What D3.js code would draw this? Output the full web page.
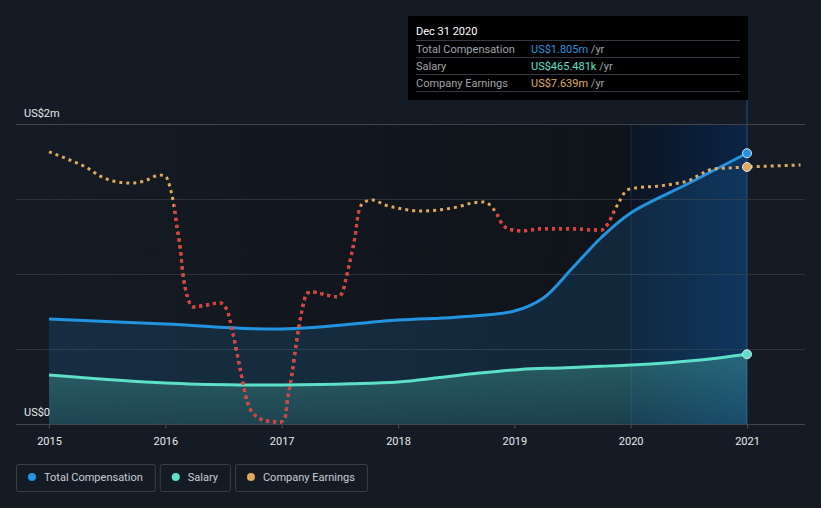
<!DOCTYPE html>
<html><head><meta charset="utf-8">
<script src="https://cdn.jsdelivr.net/npm/d3@7"></script>
<style>
html,body{margin:0;padding:0;background:#151b24;}
svg{display:block;font-family:Roboto,"Open Sans",sans-serif;}
</style></head>
<body>
<svg id="chart" width="821" height="508"></svg>
<script>
// ---- data ----
const tickYears = [2015, 2016, 2017, 2018, 2019, 2020, 2021];
const yTickLabels = ["US$0", "US$2m"];
const compYears = [2015.0, 2016.0, 2017.0, 2018.0, 2018.5, 2019.0, 2019.25, 2019.5, 2019.75, 2020.0, 2020.5, 2021.0];
const compValues = [0.70, 0.667, 0.633, 0.693, 0.712, 0.753, 0.84, 1.04, 1.245, 1.407, 1.605, 1.805];
const salaryYears = [2015.0, 2016.0, 2016.64, 2017.0, 2017.6, 2018.0, 2018.36, 2018.7, 2019.05, 2019.4, 2019.74, 2020.0, 2020.6, 2021.0];
const salaryValues = [0.327, 0.273, 0.26, 0.26, 0.268, 0.28, 0.31, 0.34, 0.364, 0.374, 0.385, 0.393, 0.427, 0.465];
const earnYears = [2015.0, 2015.155, 2015.33, 2015.44, 2015.55, 2015.72, 2015.84, 2015.95, 2016.0, 2016.04, 2016.07, 2016.10, 2016.13, 2016.15, 2016.19, 2016.24, 2016.36, 2016.47, 2016.53, 2016.58, 2016.64, 2016.70, 2016.75, 2016.87, 2016.99, 2017.03, 2017.05, 2017.09, 2017.13, 2017.17, 2017.22, 2017.27, 2017.39, 2017.48, 2017.52, 2017.55, 2017.59, 2017.63, 2017.66, 2017.70, 2017.78, 2017.89, 2018.04, 2018.19, 2018.34, 2018.51, 2018.64, 2018.73, 2018.79, 2018.85, 2018.90, 2018.98, 2019.07, 2019.22, 2019.50, 2019.68, 2019.75, 2019.81, 2019.85, 2019.91, 2019.97, 2020.05, 2020.23, 2020.36, 2020.51, 2020.62, 2020.71, 2020.85, 2021.0, 2021.22, 2021.46];
const earnValues = [8.09, 7.88, 7.61, 7.37, 7.22, 7.16, 7.25, 7.40, 7.37, 7.04, 6.57, 5.86, 5.17, 4.49, 3.78, 3.48, 3.54, 3.60, 3.39, 2.71, 1.69, 0.71, 0.33, 0.09, 0.06, 0.21, 0.71, 1.52, 2.50, 3.30, 3.89, 3.92, 3.83, 3.78, 3.89, 4.28, 4.88, 5.56, 6.27, 6.57, 6.66, 6.51, 6.39, 6.33, 6.36, 6.45, 6.57, 6.60, 6.51, 6.24, 5.92, 5.77, 5.74, 5.80, 5.80, 5.77, 5.77, 5.98, 6.27, 6.66, 6.96, 7.02, 7.07, 7.13, 7.25, 7.46, 7.58, 7.61, 7.639, 7.67, 7.70];
const earnDeclineStarts = [2016.075, 2018.83];
const earnDeclineEnds = [2017.675, 2019.86];
const highlightYears = [2020, 2021];
const legendLabels = ["Total Compensation", "Salary", "Company Earnings"];
const tooltipTitle = "Dec 31 2020";
const tooltipLabels = ["Total Compensation", "Salary", "Company Earnings"];
const tooltipValues = ["US$1.805m", "US$465.481k", "US$7.639m"];

// ---- styles ----
const C_COMP = "#2394df", C_SAL = "#5ce0c8", C_EARN = "#e0a95c", C_RED = "#e03c3c";

const svg = d3.select("#chart");
const x = d3.scaleLinear().domain([2015, 2021]).range([49, 747]);
const y = d3.scaleLinear().domain([0, 2]).range([424, 124]);
const yE = d3.scaleLinear().domain([0, 8.917]).range([424, 124]);
const X0 = 16, X1 = 805;

const defs = svg.append("defs");
const gBg = defs.append("linearGradient").attr("id", "bgGrad").attr("x1", 0).attr("x2", 1).attr("y1", 0).attr("y2", 0);
gBg.append("stop").attr("offset", 0).attr("stop-color", "#0a0d12").attr("stop-opacity", 0);
gBg.append("stop").attr("offset", 1).attr("stop-color", "#0a0d12").attr("stop-opacity", 0.55);
const gHi = defs.append("linearGradient").attr("id", "hiGrad").attr("x1", 0).attr("x2", 1).attr("y1", 0).attr("y2", 0);
gHi.append("stop").attr("offset", 0).attr("stop-color", "#0c1524").attr("stop-opacity", 1);
gHi.append("stop").attr("offset", 1).attr("stop-color", "#0b2446").attr("stop-opacity", 1);
const gSal = defs.append("linearGradient").attr("id", "salGrad").attr("x1", 0).attr("x2", 0).attr("y1", 0).attr("y2", 1);
gSal.append("stop").attr("offset", 0).attr("stop-color", C_SAL).attr("stop-opacity", 0.3);
gSal.append("stop").attr("offset", 1).attr("stop-color", C_SAL).attr("stop-opacity", 0.13);

// plot background
svg.append("rect").attr("x", X0).attr("y", y(2)).attr("width", x(highlightYears[0]) - X0).attr("height", y(0) - y(2)).attr("fill", "url(#bgGrad)");
svg.append("rect").attr("x", x(highlightYears[0])).attr("y", y(2)).attr("width", x(highlightYears[1]) - x(highlightYears[0])).attr("height", y(0) - y(2)).attr("fill", "url(#hiGrad)");
svg.append("line").attr("x1", x(highlightYears[0]) + 0.5).attr("x2", x(highlightYears[0]) + 0.5).attr("y1", y(2)).attr("y2", y(0)).attr("stroke", "#142a45").attr("stroke-width", 1);
svg.append("line").attr("x1", x(highlightYears[1])).attr("x2", x(highlightYears[1])).attr("y1", 100).attr("y2", y(0)).attr("stroke", "#1d3f66").attr("stroke-width", 1.5);

// gridlines
const gridVals = d3.range(0, 2.01, 0.5);
svg.append("g").selectAll("line").data(gridVals).join("line")
  .attr("x1", X0).attr("x2", X1)
  .attr("y1", d => Math.round(y(d)) + 0.5).attr("y2", d => Math.round(y(d)) + 0.5)
  .attr("stroke", d => d === 2 ? "#40454e" : "#2c313a").attr("stroke-width", 1);

// areas
const compData = compYears.map((t, i) => [t, compValues[i]]);
const salData = salaryYears.map((t, i) => [t, salaryValues[i]]);
const earnData = earnYears.map((t, i) => [t, earnValues[i]]);
const curve = d3.curveMonotoneX;
const smooth = d3.curveCatmullRom.alpha(0.5);

svg.append("path").datum(compData)
  .attr("d", d3.area().curve(smooth).x(d => x(d[0])).y0(y(0)).y1(d => y(d[1])))
  .attr("fill", C_COMP).attr("fill-opacity", 0.16);
svg.append("path").datum(salData)
  .attr("d", d3.area().curve(smooth).x(d => x(d[0])).y0(y(0)).y1(d => y(d[1])))
  .attr("fill", "url(#salGrad)");

// lines
svg.append("path").datum(compData)
  .attr("d", d3.line().curve(smooth).x(d => x(d[0])).y(d => y(d[1])))
  .attr("fill", "none").attr("stroke", C_COMP).attr("stroke-width", 3);
svg.append("path").datum(salData)
  .attr("d", d3.line().curve(smooth).x(d => x(d[0])).y(d => y(d[1])))
  .attr("fill", "none").attr("stroke", C_SAL).attr("stroke-width", 3);

// earnings dotted line (orange + red declining segments via clip)
const earnLine = d3.line().curve(curve).x(d => x(d[0])).y(d => yE(d[1]));
const clip = defs.append("clipPath").attr("id", "redClip");
earnDeclineStarts.forEach((s, i) => {
  clip.append("rect").attr("x", x(s)).attr("y", 0).attr("width", x(earnDeclineEnds[i]) - x(s)).attr("height", 508);
});
svg.append("path").datum(earnData).attr("d", earnLine)
  .attr("fill", "none").attr("stroke", C_EARN).attr("stroke-width", 3).attr("stroke-dasharray", "3 4");
svg.append("path").datum(earnData).attr("d", earnLine).attr("clip-path", "url(#redClip)")
  .attr("fill", "none").attr("stroke", C_RED).attr("stroke-width", 3.2).attr("stroke-dasharray", "3 4");

// end dots
const lastC = compData[compData.length - 1], lastS = salData[salData.length - 1];
const lastE = earnData.find(d => d[0] === 2021.0);
svg.append("circle").attr("cx", x(lastC[0])).attr("cy", y(lastC[1])).attr("r", 4.5).attr("fill", C_COMP).attr("stroke", "#d8e2ec").attr("stroke-width", 1);
svg.append("circle").attr("cx", x(lastE[0])).attr("cy", yE(lastE[1])).attr("r", 4.5).attr("fill", C_EARN).attr("stroke", "#d8e2ec").attr("stroke-width", 1);
svg.append("circle").attr("cx", x(lastS[0])).attr("cy", y(lastS[1])).attr("r", 4.5).attr("fill", C_SAL).attr("stroke", "#d8e2ec").attr("stroke-width", 1);

// x axis
const xAxis = d3.axisBottom(x).tickValues(tickYears).tickFormat(d3.format("d")).tickSize(4).tickSizeOuter(0);
const gx = svg.append("g").attr("transform", `translate(0,${y(0) + 0.5})`).call(xAxis);
gx.select(".domain").remove();
gx.selectAll(".tick line").attr("stroke", "#4a4f58");
gx.selectAll(".tick text").attr("fill", "#e8eaed").attr("font-size", 11).attr("font-family", "Roboto,sans-serif").attr("dy", "1.25em");
svg.append("line").attr("x1", X0).attr("x2", X1).attr("y1", y(0) + 0.5).attr("y2", y(0) + 0.5).attr("stroke", "#40454e");

// y labels
svg.append("text").attr("x", 24).attr("y", y(2) - 7).text(yTickLabels[1]).attr("fill", "#e8eaed").attr("font-size", 11);
svg.append("text").attr("x", 24).attr("y", y(0) - 8).text(yTickLabels[0]).attr("fill", "#e8eaed").attr("font-size", 11);

// tooltip
const tt = svg.append("g");
tt.append("rect").attr("x", 408).attr("y", 16).attr("width", 340).attr("height", 84).attr("fill", "#000");
tt.append("text").attr("x", 416).attr("y", 35).text(tooltipTitle).attr("fill", "#fff").attr("font-size", 11);
[40.5, 57.5, 74.5, 91.5].forEach(ly => tt.append("line").attr("x1", 416).attr("x2", 740).attr("y1", ly).attr("y2", ly).attr("stroke", "#333841"));
const ttColors = [C_COMP, C_SAL, C_EARN];
tooltipLabels.forEach((lab, i) => {
  const by = 52.5 + i * 17;
  tt.append("text").attr("x", 416).attr("y", by).text(lab).attr("fill", "#a0a4aa").attr("font-size", 11);
  const t = tt.append("text").attr("x", 531).attr("y", by).attr("font-size", 11);
  t.append("tspan").text(tooltipValues[i]).attr("fill", ttColors[i]);
  t.append("tspan").text(" /yr").attr("fill", "#a0a4aa");
});

// legend
const lg = svg.append("g");
let lx = 16;
const legendColors = [C_COMP, C_SAL, C_EARN];
legendLabels.forEach((lab, i) => {
  const g = lg.append("g");
  const txt = g.append("text").attr("x", lx + 28).attr("y", 481).text(lab).attr("fill", "#c9cdd3").attr("font-size", 11);
  const w = txt.node().getComputedTextLength() + 40;
  g.insert("rect", "text").attr("x", lx + 0.5).attr("y", 464.5).attr("width", w).attr("height", 27).attr("rx", 2)
    .attr("fill", "none").attr("stroke", "#3a3f48");
  g.append("circle").attr("cx", lx + 16).attr("cy", 477).attr("r", 4).attr("fill", legendColors[i]);
  lx += w + 5;
});
</script>
</body></html>
